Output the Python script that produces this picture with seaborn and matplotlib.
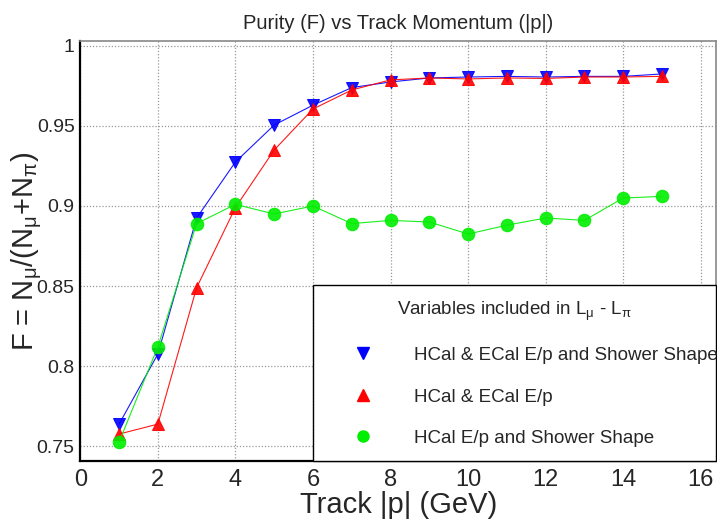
import numpy as np
import pandas as pd
import matplotlib
matplotlib.use("Agg")
import matplotlib.pyplot as plt
from matplotlib.ticker import MultipleLocator
from matplotlib.lines import Line2D
import seaborn as sns

# --- dades llegides de la figura ---
moment = [1, 2, 3, 4, 5, 6, 7, 8, 9, 10, 11, 12, 13, 14, 15]
pur_hcal_ecal_shower = [0.7637, 0.8075, 0.8925, 0.9275, 0.9506, 0.9630, 0.9740, 0.9775,
                        0.9800, 0.9806, 0.9810, 0.9806, 0.9810, 0.9810, 0.9825]
pur_hcal_ecal = [0.7575, 0.7637, 0.8490, 0.8990, 0.9350, 0.9606, 0.9725, 0.9788,
                 0.9800, 0.9794, 0.9800, 0.9797, 0.9806, 0.9806, 0.9810]
pur_hcal_shower = [0.7525, 0.8120, 0.8890, 0.9010, 0.8950, 0.9000, 0.8890, 0.8910,
                   0.8900, 0.8825, 0.8880, 0.8925, 0.8910, 0.9050, 0.9060]

etiquetes = ["HCal & ECal E/p and Shower Shape", "HCal & ECal E/p", "HCal E/p and Shower Shape"]
colors = ["#0000ff", "#ff0000", "#00ee00"]
marcadors = ["v", "^", "o"]

sns.set_style("white")
plt.rcParams['font.family'] = ['Liberation Sans', 'DejaVu Sans']
plt.rcParams['mathtext.fontset'] = 'custom'
plt.rcParams['mathtext.rm'] = 'Liberation Sans'
plt.rcParams['mathtext.it'] = 'Liberation Sans'

fig = plt.figure(figsize=(7.17, 5.21), dpi=100)
ax = fig.add_axes([0.112, 0.115, 0.887, 0.806])

series = [pur_hcal_ecal_shower, pur_hcal_ecal, pur_hcal_shower]
for vals, lab, col, mk in zip(series, etiquetes, colors, marcadors):
    df = pd.DataFrame({"p": moment, "F": vals})
    sns.lineplot(data=df, x="p", y="F", ax=ax, color=col, marker=mk, markersize=9,
                 markeredgecolor=col, linewidth=0.8, alpha=1.0, label=lab)
    ax.lines[-1].set_alpha(0.9)

ax.set_xlim(0, 16.4)
ax.set_ylim(0.7406, 1.003)
ax.xaxis.set_major_locator(MultipleLocator(2))
ax.xaxis.set_minor_locator(MultipleLocator(0.5))
ax.set_yticks([0.75, 0.8, 0.85, 0.9, 0.95, 1.0])
ax.set_yticklabels(["0.75", "0.8", "0.85", "0.9", "0.95", "1"])

ax.grid(True, which="major", linestyle=(0, (1, 1.5)), color="#999999", linewidth=0.9)
ax.tick_params(axis="x", which="both", direction="in", length=7, width=1,
               labelsize=17, pad=6, top=False)
ax.tick_params(axis="y", which="major", direction="in", length=18, width=1,
               labelsize=14, pad=4, right=False)

for s in ["left", "bottom"]:
    ax.spines[s].set_color("black")
    ax.spines[s].set_linewidth(1.6)
for s in ["top", "right"]:
    ax.spines[s].set_color("#888888")
    ax.spines[s].set_linewidth(1.2)

ax.set_title("Purity (F) vs Track Momentum (|p|)", fontsize=14.5, pad=9)
ax.set_xlabel("Track |p| (GeV)", fontsize=21, labelpad=0)
ax.set_ylabel(r"F = N$_{\mu}$/(N$_{\mu}$+N$_{\pi}$)", fontsize=21, labelpad=-5)

handles = [Line2D([], [], linestyle="none", marker=mk, color=col, markersize=8)
           for col, mk in zip(colors, marcadors)]
leg = ax.legend(handles, etiquetes, title=r"Variables included in L$_{\mu}$ - L$_{\pi}$",
                loc="lower left", bbox_to_anchor=(0.366, 0.0, 0.634, 0.414),
                mode="expand", borderaxespad=0, fontsize=13.5, title_fontsize=13.5,
                frameon=True, fancybox=False, edgecolor="black", framealpha=1,
                labelspacing=1.3, handlelength=3.84, handletextpad=0.8, borderpad=0.75)
leg.get_frame().set_linewidth(1.0)

fig.savefig("out.png", dpi=100)
